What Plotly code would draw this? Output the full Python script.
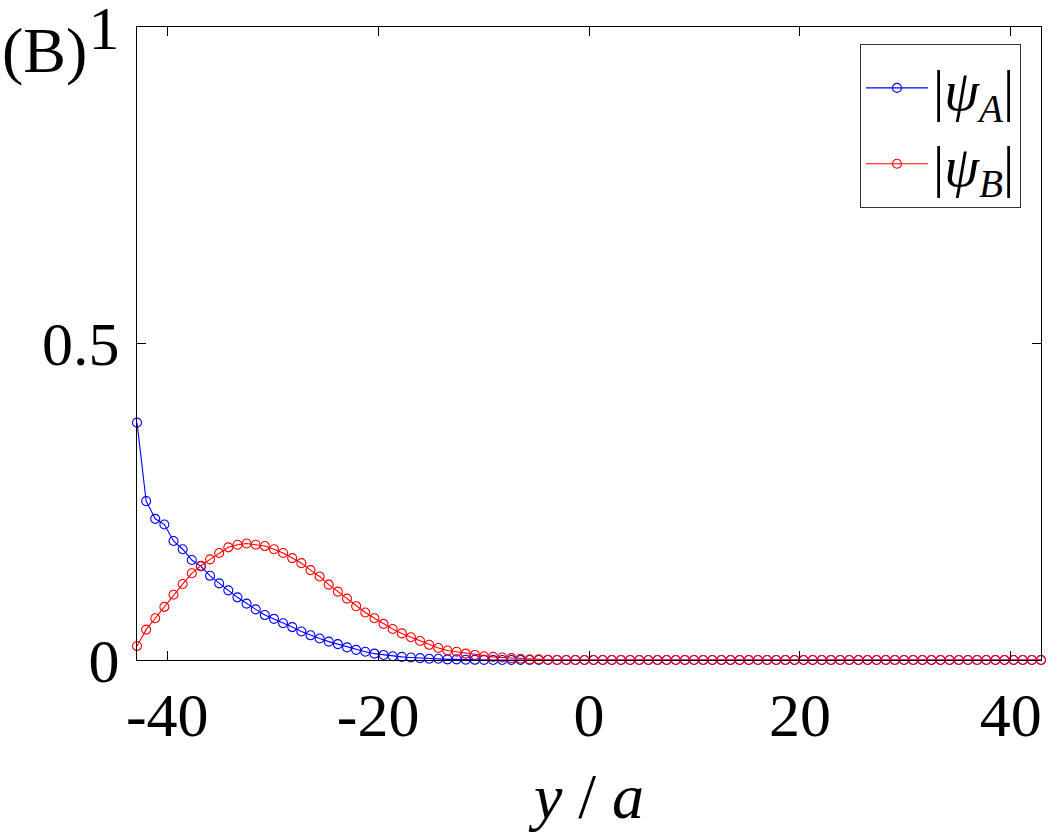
import plotly.graph_objects as go

# lattice positions y/a (sites spaced sqrt(3)/2)
y_pos = [
    -42.868, -42.002, -41.136, -40.270, -39.404, -38.538, -37.672, -36.806, -35.940, -35.074,
    -34.208, -33.342, -32.476, -31.610, -30.744, -29.878, -29.012, -28.146, -27.280, -26.413,
    -25.547, -24.681, -23.815, -22.949, -22.083, -21.217, -20.351, -19.485, -18.619, -17.753,
    -16.887, -16.021, -15.155, -14.289, -13.423, -12.557, -11.691, -10.825, -9.959, -9.093,
    -8.227, -7.361, -6.495, -5.629, -4.763, -3.897, -3.031, -2.165, -1.299, -0.433,
    0.433, 1.299, 2.165, 3.031, 3.897, 4.763, 5.629, 6.495, 7.361, 8.227,
    9.093, 9.959, 10.825, 11.691, 12.557, 13.423, 14.289, 15.155, 16.021, 16.887,
    17.753, 18.619, 19.485, 20.351, 21.217, 22.083, 22.949, 23.815, 24.681, 25.547,
    26.413, 27.280, 28.146, 29.012, 29.878, 30.744, 31.610, 32.476, 33.342, 34.208,
    35.074, 35.940, 36.806, 37.672, 38.538, 39.404, 40.270, 41.136, 42.002, 42.868,
]

psi_A = [
    0.375, 0.251, 0.223, 0.214, 0.188, 0.175, 0.158, 0.148, 0.133, 0.121,
    0.110, 0.099, 0.089, 0.080, 0.071, 0.065, 0.058, 0.052, 0.045, 0.039,
    0.034, 0.029, 0.025, 0.020, 0.016, 0.013, 0.010, 0.008, 0.006, 0.005,
    0.004, 0.003, 0.002, 0.002, 0.001, 0.001, 0.0005, 0.0003, 0.0002, 0.0001,
    0.0, 0.0, 0.0, 0.0, 0.0, 0.0, 0.0, 0.0, 0.0, 0.0,
    0.0, 0.0, 0.0, 0.0, 0.0, 0.0, 0.0, 0.0, 0.0, 0.0,
    0.0, 0.0, 0.0, 0.0, 0.0, 0.0, 0.0, 0.0, 0.0, 0.0,
    0.0, 0.0, 0.0, 0.0, 0.0, 0.0, 0.0, 0.0, 0.0, 0.0,
    0.0, 0.0, 0.0, 0.0, 0.0, 0.0, 0.0, 0.0, 0.0, 0.0,
    0.0, 0.0, 0.0, 0.0, 0.0, 0.0, 0.0, 0.0, 0.0, 0.0,
]

psi_B = [
    0.022, 0.048, 0.066, 0.084, 0.103, 0.120, 0.137, 0.149, 0.159, 0.169,
    0.178, 0.182, 0.184, 0.182, 0.180, 0.175, 0.169, 0.161, 0.153, 0.142,
    0.132, 0.119, 0.108, 0.097, 0.085, 0.075, 0.066, 0.057, 0.049, 0.042,
    0.036, 0.030, 0.024, 0.019, 0.015, 0.013, 0.010, 0.008, 0.006, 0.005,
    0.004, 0.003, 0.002, 0.001, 0.001, 0.0005, 0.0, 0.0, 0.0, 0.0,
    0.0, 0.0, 0.0, 0.0, 0.0, 0.0, 0.0, 0.0, 0.0, 0.0,
    0.0, 0.0, 0.0, 0.0, 0.0, 0.0, 0.0, 0.0, 0.0, 0.0,
    0.0, 0.0, 0.0, 0.0, 0.0, 0.0, 0.0, 0.0, 0.0, 0.0,
    0.0, 0.0, 0.0, 0.0, 0.0, 0.0, 0.0, 0.0, 0.0, 0.0,
    0.0, 0.0, 0.0, 0.0, 0.0, 0.0, 0.0, 0.0, 0.0, 0.0,
]

x_ticks = [-40, -20, 0, 20, 40]
x_ticktext = ["-40", "-20", "0", "20", "40"]
y_ticks = [0, 0.5, 1]
y_ticktext = ["0", "0.5", "1"]

FONT = "Liberation Serif"
W, H = 1048, 832
ML, MR, MT, MB = 137, 7, 27, 172
PW = W - ML - MR
PH = H - MT - MB

fig = go.Figure()
fig.add_trace(go.Scatter(
    x=y_pos, y=psi_A, mode="lines+markers",
    name="|<i>ψ</i><sub><i>A</i></sub>|",
    line=dict(color="rgb(0,0,255)", width=1.1),
    marker=dict(symbol="circle-open", size=9, color="rgb(0,0,255)", line=dict(width=1.1)),
    cliponaxis=False,
))
fig.add_trace(go.Scatter(
    x=y_pos, y=psi_B, mode="lines+markers",
    name="|<i>ψ</i><sub><i>B</i></sub>|",
    line=dict(color="rgb(255,0,0)", width=1.1),
    marker=dict(symbol="circle-open", size=9, color="rgb(255,0,0)", line=dict(width=1.1)),
    cliponaxis=False,
))

fig.update_layout(
    width=W, height=H,
    margin=dict(l=ML, r=MR, t=MT, b=MB, autoexpand=False),
    paper_bgcolor="white", plot_bgcolor="white",
    font=dict(family=FONT, size=62, color="black"),
    showlegend=True,
    legend=dict(
        x=(1021 - ML) / PW, xanchor="right",
        y=(H - MB - 44) / PH, yanchor="top",
        bgcolor="white", bordercolor="#333333", borderwidth=1,
        font=dict(family=FONT, size=56, color="black"),
        itemwidth=62,
        tracegroupgap=0,
    ),
    xaxis=dict(
        range=[y_pos[0], y_pos[-1]],
        tickmode="array", tickvals=x_ticks, ticktext=x_ticktext,
        ticks="inside", ticklen=9, tickwidth=1, tickcolor="black",
        showline=True, linecolor="black", linewidth=1.3, mirror="ticks",
        showgrid=False, zeroline=False, automargin=False,
        tickfont=dict(family=FONT, size=62),
        ticklabelstandoff=0,
        ticklabeloverflow="allow",
        title=dict(text="<i>y</i> / <i>a</i>", font=dict(family=FONT, size=64), standoff=26),
    ),
    yaxis=dict(
        range=[0, 1],
        tickmode="array", tickvals=y_ticks, ticktext=y_ticktext,
        ticks="inside", ticklen=9, tickwidth=1, tickcolor="black",
        showline=True, linecolor="black", linewidth=1.3, mirror="ticks",
        showgrid=False, zeroline=False, automargin=False,
        tickfont=dict(family=FONT, size=62),
        ticklabelstandoff=4,
        ticklabeloverflow="allow",
    ),
    annotations=[dict(
        text="(B)", xref="paper", yref="paper",
        x=-ML / PW, xanchor="left",
        y=(H - MB - 50) / PH, yanchor="middle",
        showarrow=False, font=dict(family=FONT, size=64, color="black"),
    )],
)

fig.write_html("out.html")
